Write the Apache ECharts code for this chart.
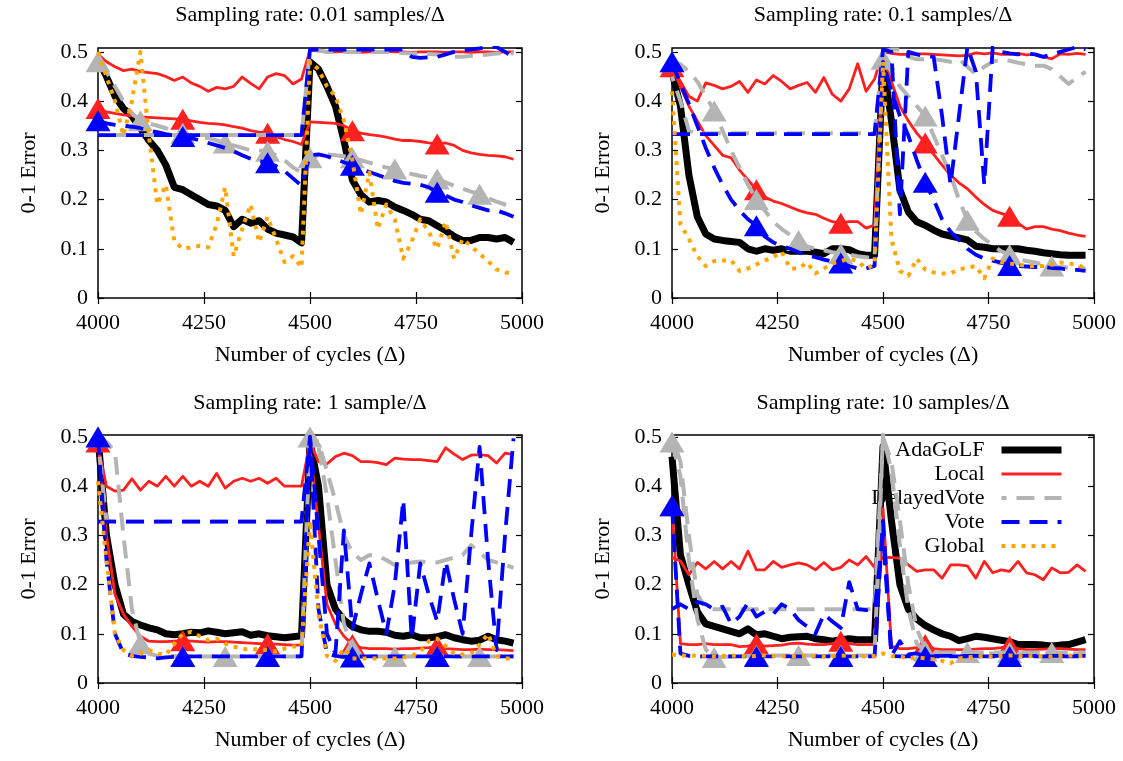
<!DOCTYPE html>
<html><head><meta charset="utf-8">
<script src="https://cdn.jsdelivr.net/npm/echarts@6/dist/echarts.min.js"></script>
<style>html,body{margin:0;padding:0;background:#fff}#c{width:1123px;height:761px}</style>
</head><body><div id="c"></div>
<script>
// ---------- data ----------
const X = [4000,4020,4040,4060,4080,4100,4120,4140,4160,4180,
4200,4220,4240,4260,4280,4300,4320,4340,4360,4380,
4400,4420,4440,4460,4480,4500,4520,4540,4560,4580,
4600,4620,4640,4660,4680,4700,4720,4740,4760,4780,
4800,4820,4840,4860,4880,4900,4920,4940,4960,4980];
const X_TICKS = [4000, 4250, 4500, 4750, 5000];
const MARK_RB = [4000, 4200, 4400, 4600, 4800];
const MARK_GRAY = [4000, 4100, 4200, 4300, 4400, 4500, 4600, 4700, 4800, 4900];
const TITLES = ['Sampling rate: 0.01 samples/\u0394','Sampling rate: 0.1 samples/\u0394','Sampling rate: 1 sample/\u0394','Sampling rate: 10 samples/\u0394'];
const LEGEND_NAMES = ['AdaGoLF','Local','DelayedVote','Vote','Global'];

// ---- 0.01 samples ----
const ada001 = [0.485,0.45,0.41,0.385,0.37,0.345,0.32,0.30,0.27,0.225,
0.22,0.21,0.20,0.19,0.187,0.178,0.145,0.16,0.152,0.157,
0.14,0.132,0.128,0.124,0.112,0.48,0.465,0.43,0.39,0.32,
0.24,0.21,0.195,0.198,0.195,0.185,0.178,0.17,0.16,0.157,
0.147,0.137,0.125,0.117,0.117,0.123,0.123,0.12,0.123,0.113];
const local001 = [0.495,0.48,0.47,0.462,0.465,0.46,0.458,0.456,0.45,0.442,
0.449,0.437,0.43,0.42,0.428,0.425,0.43,0.449,0.436,0.425,
0.449,0.456,0.452,0.435,0.445,0.503,0.502,0.5,0.5,0.501,
0.5,0.499,0.5,0.5,0.501,0.5,0.5,0.499,0.5,0.5,
0.5,0.499,0.5,0.5,0.499,0.5,0.5,0.499,0.5,0.5];
const localM001 = [0.385,0.378,0.375,0.372,0.37,0.368,0.367,0.366,0.365,0.364,
0.363,0.36,0.357,0.355,0.354,0.352,0.348,0.345,0.34,0.337,
0.335,0.328,0.322,0.318,0.312,0.358,0.357,0.356,0.355,0.35,
0.34,0.335,0.332,0.33,0.327,0.323,0.32,0.32,0.318,0.315,
0.313,0.315,0.31,0.3,0.295,0.292,0.29,0.289,0.287,0.282];
const dv001 = [0.331,0.331,0.331,0.331,0.331,0.331,0.331,0.331,0.331,0.331,
0.331,0.331,0.331,0.331,0.331,0.331,0.331,0.331,0.331,0.331,
0.331,0.331,0.331,0.331,0.331,0.505,0.503,0.5,0.5,0.5,
0.5,0.5,0.499,0.5,0.5,0.5,0.498,0.497,0.497,0.496,
0.495,0.493,0.49,0.49,0.492,0.493,0.495,0.497,0.498,0.497];
const dvM001 = [0.48,0.46,0.43,0.4,0.375,0.36,0.355,0.35,0.345,0.34,
0.335,0.33,0.328,0.325,0.32,0.315,0.31,0.305,0.3,0.3,
0.298,0.29,0.28,0.265,0.255,0.285,0.29,0.292,0.29,0.288,
0.285,0.28,0.275,0.27,0.265,0.262,0.257,0.252,0.248,0.245,
0.242,0.235,0.228,0.222,0.216,0.211,0.203,0.196,0.19,0.184];
const vote001 = [0.331,0.331,0.331,0.331,0.331,0.331,0.331,0.331,0.331,0.331,
0.331,0.331,0.331,0.331,0.331,0.331,0.331,0.331,0.331,0.331,
0.331,0.331,0.331,0.331,0.331,0.505,0.505,0.505,0.505,0.505,
0.505,0.505,0.505,0.505,0.505,0.505,0.505,0.49,0.488,0.489,
0.49,0.495,0.5,0.503,0.505,0.507,0.51,0.51,0.5,0.49];
const voteM001 = [0.36,0.355,0.352,0.35,0.348,0.345,0.34,0.337,0.333,0.33,
0.328,0.325,0.32,0.315,0.31,0.305,0.298,0.29,0.283,0.278,
0.275,0.268,0.258,0.243,0.228,0.29,0.292,0.288,0.282,0.276,
0.27,0.262,0.256,0.25,0.244,0.238,0.234,0.232,0.23,0.225,
0.215,0.208,0.2,0.195,0.188,0.183,0.178,0.178,0.172,0.165];
const global001 = [0.5,0.45,0.4,0.33,0.4,0.5,0.33,0.19,0.23,0.115,
0.1,0.103,0.106,0.103,0.15,0.225,0.085,0.14,0.19,0.113,
0.165,0.12,0.073,0.085,0.062,0.48,0.465,0.43,0.41,0.36,
0.28,0.17,0.255,0.14,0.19,0.16,0.08,0.115,0.16,0.135,
0.1,0.155,0.08,0.12,0.105,0.09,0.075,0.058,0.052,0.049];

// ---- 0.1 samples ----
const ada01 = [0.46,0.39,0.25,0.165,0.13,0.12,0.117,0.115,0.113,0.1,
0.095,0.1,0.097,0.1,0.095,0.095,0.095,0.093,0.09,0.1,
0.1,0.098,0.09,0.087,0.087,0.48,0.36,0.22,0.175,0.155,
0.148,0.138,0.13,0.126,0.122,0.118,0.105,0.103,0.1,0.1,
0.1,0.1,0.097,0.095,0.092,0.09,0.088,0.087,0.087,0.087];
const local01 = [0.47,0.44,0.41,0.4,0.437,0.432,0.425,0.43,0.44,0.418,
0.443,0.435,0.452,0.44,0.425,0.432,0.438,0.418,0.448,0.414,
0.4,0.425,0.476,0.42,0.445,0.5,0.497,0.495,0.495,0.496,
0.496,0.495,0.494,0.493,0.492,0.493,0.498,0.496,0.498,0.495,
0.495,0.497,0.494,0.495,0.49,0.486,0.496,0.495,0.497,0.495];
const localM01 = [0.47,0.43,0.39,0.36,0.33,0.31,0.29,0.285,0.26,0.24,
0.22,0.205,0.197,0.192,0.185,0.178,0.173,0.17,0.162,0.155,
0.152,0.155,0.155,0.142,0.148,0.49,0.44,0.39,0.36,0.335,
0.315,0.292,0.27,0.25,0.234,0.222,0.205,0.19,0.178,0.172,
0.166,0.152,0.14,0.145,0.145,0.14,0.137,0.132,0.128,0.125];
const dv01 = [0.45,0.4,0.34,0.335,0.335,0.335,0.335,0.335,0.335,0.335,
0.335,0.335,0.335,0.335,0.335,0.335,0.335,0.335,0.335,0.335,
0.335,0.335,0.335,0.335,0.335,0.5,0.505,0.505,0.49,0.485,
0.485,0.485,0.483,0.48,0.485,0.47,0.455,0.47,0.48,0.485,
0.482,0.478,0.475,0.472,0.472,0.465,0.45,0.435,0.448,0.46];
const dvM01 = [0.48,0.475,0.46,0.44,0.41,0.38,0.34,0.3,0.265,0.23,
0.2,0.178,0.155,0.14,0.128,0.117,0.105,0.1,0.097,0.093,
0.09,0.088,0.085,0.083,0.08,0.485,0.46,0.43,0.41,0.39,
0.37,0.33,0.29,0.25,0.2,0.158,0.135,0.12,0.107,0.095,
0.088,0.08,0.075,0.072,0.068,0.065,0.063,0.062,0.061,0.06];
const vote01 = [0.333,0.333,0.333,0.333,0.333,0.333,0.333,0.333,0.333,0.333,
0.333,0.333,0.333,0.333,0.333,0.333,0.333,0.333,0.333,0.333,
0.333,0.333,0.333,0.333,0.333,0.505,0.5,0.17,0.5,0.495,
0.492,0.49,0.37,0.23,0.37,0.51,0.46,0.23,0.51,0.5,
0.497,0.495,0.497,0.495,0.49,0.495,0.5,0.505,0.51,0.505];
const voteM01 = [0.48,0.435,0.395,0.35,0.305,0.265,0.23,0.2,0.178,0.16,
0.147,0.125,0.113,0.105,0.1,0.093,0.087,0.083,0.078,0.074,
0.071,0.065,0.06,0.06,0.065,0.48,0.42,0.37,0.33,0.28,
0.235,0.2,0.16,0.135,0.118,0.1,0.088,0.08,0.076,0.072,
0.066,0.065,0.064,0.063,0.063,0.061,0.06,0.058,0.057,0.055];
const global01 = [0.42,0.15,0.12,0.085,0.065,0.075,0.076,0.077,0.055,0.06,
0.068,0.076,0.083,0.094,0.06,0.06,0.072,0.05,0.06,0.07,
0.075,0.08,0.075,0.06,0.068,0.48,0.12,0.055,0.045,0.08,
0.058,0.052,0.05,0.05,0.058,0.062,0.065,0.04,0.08,0.073,
0.07,0.068,0.065,0.065,0.065,0.068,0.072,0.07,0.068,0.06];

// ---- 1 sample ----
const ada1 = [0.5,0.3,0.2,0.14,0.125,0.118,0.112,0.108,0.1,0.098,
0.1,0.103,0.102,0.106,0.103,0.1,0.102,0.104,0.097,0.1,
0.096,0.094,0.092,0.094,0.096,0.49,0.4,0.2,0.15,0.128,
0.115,0.108,0.105,0.105,0.103,0.097,0.095,0.098,0.092,0.092,
0.094,0.098,0.092,0.088,0.085,0.087,0.095,0.088,0.085,0.081];
const local1 = [0.48,0.4,0.39,0.392,0.415,0.392,0.41,0.4,0.42,0.4,
0.42,0.4,0.41,0.4,0.426,0.396,0.41,0.416,0.41,0.416,
0.406,0.416,0.4,0.4,0.4,0.49,0.45,0.445,0.46,0.467,
0.462,0.45,0.45,0.448,0.444,0.457,0.455,0.454,0.454,0.452,
0.45,0.478,0.465,0.454,0.463,0.464,0.462,0.447,0.467,0.464];
const localM1 = [0.49,0.3,0.18,0.14,0.115,0.095,0.085,0.084,0.084,0.085,
0.086,0.085,0.084,0.083,0.084,0.084,0.083,0.082,0.081,0.08,
0.08,0.079,0.078,0.077,0.077,0.48,0.32,0.16,0.12,0.095,
0.078,0.072,0.07,0.07,0.07,0.069,0.07,0.07,0.071,0.072,
0.074,0.07,0.069,0.068,0.068,0.069,0.068,0.068,0.067,0.066];
const dv1 = [0.49,0.33,0.328,0.328,0.328,0.328,0.328,0.328,0.328,0.328,
0.328,0.328,0.328,0.328,0.328,0.328,0.328,0.328,0.328,0.328,
0.328,0.328,0.328,0.328,0.328,0.5,0.49,0.43,0.37,0.3,
0.265,0.25,0.26,0.258,0.25,0.24,0.24,0.245,0.247,0.245,
0.245,0.25,0.255,0.26,0.28,0.265,0.25,0.245,0.24,0.234];
const dvM1 = [0.5,0.49,0.47,0.3,0.15,0.08,0.06,0.055,0.055,0.055,
0.054,0.054,0.054,0.054,0.054,0.054,0.054,0.054,0.054,0.054,
0.054,0.054,0.054,0.054,0.054,0.5,0.48,0.38,0.25,0.12,
0.07,0.058,0.055,0.054,0.054,0.054,0.054,0.054,0.054,0.054,
0.054,0.054,0.054,0.054,0.054,0.054,0.054,0.054,0.054,0.054];
const vote1 = [0.328,0.328,0.328,0.328,0.328,0.328,0.328,0.328,0.328,0.328,
0.328,0.328,0.328,0.328,0.328,0.328,0.328,0.328,0.328,0.328,
0.328,0.328,0.328,0.328,0.328,0.5,0.3,0.1,0.06,0.31,
0.11,0.18,0.243,0.17,0.1,0.2,0.372,0.09,0.243,0.18,
0.125,0.247,0.17,0.1,0.3,0.48,0.25,0.067,0.3,0.497];
const voteM1 = [0.5,0.25,0.1,0.06,0.055,0.053,0.052,0.05,0.052,0.053,
0.054,0.054,0.054,0.054,0.054,0.054,0.054,0.054,0.054,0.054,
0.054,0.054,0.054,0.054,0.054,0.5,0.15,0.06,0.055,0.053,
0.053,0.054,0.054,0.054,0.054,0.054,0.054,0.054,0.054,0.054,
0.054,0.054,0.054,0.054,0.054,0.054,0.054,0.054,0.054,0.054];
const global1 = [0.41,0.25,0.1,0.067,0.055,0.06,0.067,0.06,0.057,0.08,
0.1,0.104,0.095,0.087,0.09,0.08,0.074,0.07,0.067,0.07,
0.066,0.064,0.07,0.074,0.074,0.33,0.14,0.055,0.045,0.07,
0.05,0.05,0.05,0.05,0.05,0.05,0.052,0.055,0.064,0.085,
0.09,0.075,0.06,0.058,0.06,0.078,0.1,0.055,0.05,0.05];

// ---- 10 samples ----
const ada10 = [0.46,0.26,0.2,0.145,0.12,0.115,0.11,0.105,0.1,0.11,
0.098,0.1,0.095,0.09,0.093,0.094,0.095,0.09,0.088,0.085,
0.088,0.09,0.088,0.088,0.088,0.48,0.33,0.2,0.15,0.13,
0.117,0.108,0.1,0.095,0.086,0.09,0.095,0.093,0.09,0.087,
0.084,0.078,0.078,0.078,0.077,0.075,0.077,0.078,0.083,0.088];
const local10 = [0.255,0.248,0.22,0.245,0.232,0.247,0.232,0.247,0.232,0.268,
0.23,0.23,0.247,0.235,0.24,0.244,0.24,0.23,0.245,0.23,
0.235,0.25,0.24,0.257,0.235,0.255,0.255,0.254,0.24,0.227,
0.23,0.23,0.213,0.24,0.24,0.238,0.213,0.247,0.224,0.23,
0.227,0.247,0.224,0.22,0.21,0.234,0.224,0.225,0.24,0.227];
const localM10 = [0.36,0.08,0.078,0.078,0.08,0.078,0.078,0.078,0.074,0.075,
0.08,0.075,0.076,0.077,0.08,0.081,0.079,0.078,0.078,0.08,
0.085,0.08,0.078,0.078,0.078,0.355,0.075,0.07,0.07,0.072,
0.078,0.07,0.068,0.068,0.068,0.068,0.069,0.07,0.07,0.072,
0.075,0.07,0.068,0.068,0.069,0.07,0.07,0.069,0.068,0.068];
const dv10 = [0.5,0.45,0.3,0.18,0.152,0.15,0.15,0.15,0.15,0.15,
0.15,0.15,0.15,0.15,0.15,0.15,0.15,0.15,0.15,0.15,
0.15,0.15,0.15,0.15,0.15,0.5,0.45,0.33,0.2,0.11,
0.07,0.062,0.06,0.06,0.06,0.06,0.06,0.06,0.06,0.06,
0.06,0.06,0.06,0.06,0.06,0.06,0.06,0.06,0.06,0.06];
const dvM10 = [0.49,0.42,0.25,0.13,0.068,0.052,0.053,0.054,0.055,0.055,
0.056,0.056,0.056,0.056,0.056,0.056,0.056,0.056,0.056,0.056,
0.056,0.056,0.056,0.056,0.056,0.505,0.43,0.28,0.15,0.08,
0.065,0.062,0.062,0.062,0.062,0.062,0.062,0.062,0.062,0.062,
0.062,0.062,0.062,0.062,0.062,0.062,0.062,0.062,0.062,0.062];
const vote10 = [0.15,0.16,0.15,0.165,0.16,0.15,0.155,0.12,0.135,0.163,
0.135,0.145,0.14,0.16,0.15,0.128,0.115,0.1,0.14,0.125,
0.112,0.205,0.15,0.148,0.148,0.3,0.055,0.085,0.058,0.06,
0.055,0.055,0.055,0.055,0.055,0.055,0.055,0.055,0.055,0.055,
0.055,0.055,0.055,0.055,0.055,0.055,0.055,0.055,0.055,0.055];
const voteM10 = [0.36,0.06,0.055,0.054,0.054,0.054,0.054,0.054,0.054,0.054,
0.054,0.054,0.054,0.054,0.054,0.054,0.054,0.054,0.054,0.054,
0.054,0.054,0.054,0.054,0.054,0.33,0.055,0.054,0.054,0.054,
0.054,0.054,0.054,0.054,0.054,0.054,0.054,0.054,0.054,0.054,
0.054,0.054,0.054,0.054,0.054,0.054,0.054,0.054,0.054,0.054];
const global10 = [0.058,0.056,0.055,0.056,0.055,0.054,0.055,0.056,0.055,0.054,
0.055,0.056,0.055,0.055,0.054,0.055,0.056,0.055,0.054,0.055,
0.056,0.055,0.055,0.054,0.055,0.06,0.055,0.054,0.05,0.052,
0.05,0.048,0.045,0.04,0.05,0.052,0.054,0.055,0.054,0.055,
0.056,0.055,0.054,0.055,0.055,0.054,0.055,0.056,0.055,0.055];

// ---------- layout & style ----------
const FONT = "'Liberation Serif','Times New Roman','DejaVu Serif',serif";
const PANELS = [
  {left:98, top:48, width:424, height:250, ymax:0.508, cx:310, ty:15,
   s:[ada001,local001,localM001,dv001,dvM001,vote001,voteM001,global001]},
  {left:672, top:48, width:422, height:250, ymax:0.508, cx:883, ty:15,
   s:[ada01,local01,localM01,dv01,dvM01,vote01,voteM01,global01]},
  {left:98, top:435, width:424, height:248, ymax:0.504, cx:310, ty:403,
   s:[ada1,local1,localM1,dv1,dvM1,vote1,voteM1,global1]},
  {left:672, top:435, width:422, height:248, ymax:0.504, cx:883, ty:403,
   s:[ada10,local10,localM10,dv10,dvM10,vote10,voteM10,global10]}
];
const STY = [
  {name:'AdaGoLF', color:'#000000', width:7, type:'solid', mark:null},
  {name:'Local', color:'#ff2020', width:2.8, type:'solid', mark:null},
  {name:'Local ', color:'#ff2020', width:2.8, type:'solid', mark:MARK_RB},
  {name:'DelayedVote', color:'#b4b4b4', width:4, type:[18,10], off:13, mark:null},
  {name:'DelayedVote ', color:'#b4b4b4', width:4, type:[18,10], mark:MARK_GRAY},
  {name:'Vote', color:'#0000ff', width:3.8, type:[18,10], mark:null},
  {name:'Vote ', color:'#0000ff', width:3.8, type:[18,10], mark:MARK_RB},
  {name:'Global', color:'#ffa500', width:4, type:[4,6], mark:null}
];

const grids=[], xAxes=[], yAxes=[], series=[], graphics=[];
PANELS.forEach((p, pi) => {
  grids.push({left:p.left, top:p.top, width:p.width, height:p.height, show:true,
    borderColor:'#000', borderWidth:1.5, backgroundColor:'transparent'});
  const tick = {show:true, inside:true, length:6, lineStyle:{color:'#000', width:1.2}};
  xAxes.push({type:'value', gridIndex:pi, min:X_TICKS[0], max:X_TICKS[X_TICKS.length-1], interval:X_TICKS[1]-X_TICKS[0],
    position:'bottom', axisLine:{show:false}, axisTick:tick, splitLine:{show:false},
    axisLabel:{fontFamily:FONT, fontSize:22, color:'#000', margin:14, formatter:v=>String(v)},
    name:'Number of cycles (\u0394)', nameLocation:'middle', nameGap:46,
    nameTextStyle:{fontFamily:FONT, fontSize:22, color:'#000'}});
  xAxes.push({type:'value', gridIndex:pi, min:X_TICKS[0], max:X_TICKS[X_TICKS.length-1], interval:X_TICKS[1]-X_TICKS[0],
    position:'top', axisLine:{show:false}, axisTick:tick, axisLabel:{show:false}, splitLine:{show:false}});
  yAxes.push({type:'value', gridIndex:pi, min:0, max:p.ymax, interval:0.1, position:'left',
    axisLine:{show:false}, axisTick:tick, splitLine:{show:false},
    axisLabel:{fontFamily:FONT, fontSize:22, color:'#000', margin:10, showMaxLabel:false,
      formatter:v=>String(parseFloat(v.toFixed(3)))},
    name:'0-1 Error', nameLocation:'middle', nameGap:58, nameRotate:90,
    nameTextStyle:{fontFamily:FONT, fontSize:22, color:'#000'}});
  yAxes.push({type:'value', gridIndex:pi, min:0, max:p.ymax, interval:0.1, position:'right',
    axisLine:{show:false}, axisTick:tick, axisLabel:{show:false}, splitLine:{show:false}});
  graphics.push({type:'text', x:p.cx, y:p.ty, style:{text:TITLES[pi], font:'22px ' + FONT, fill:'#000',
    textAlign:'center', textVerticalAlign:'middle', align:'center', verticalAlign:'middle'}});
  STY.forEach((st, k) => {
    const arr = p.s[k];
    const marks = st.mark;
    series.push({
      type:'line', name:st.name, xAxisIndex:2*pi, yAxisIndex:2*pi,
      data: X.map((x, i) => [x, arr[i]]),
      symbol: marks ? (v => marks.indexOf(v[0]) >= 0 ? 'triangle' : 'none') : 'none',
      symbolSize:[25,21], showAllSymbol:true, showSymbol: !!marks,
      itemStyle:{color:st.color, borderWidth:0},
      lineStyle:{color:st.color, width:st.width, type:st.type, dashOffset:st.off||0, cap:'butt', join:'round'},
      z: 2 + k, silent:true, animation:false, clip:true
    });
  });
});

const chart = echarts.init(document.getElementById('c'), null, {renderer:'canvas'});
chart.setOption({
  animation:false,
  backgroundColor:'#fff',
  grid:grids, xAxis:xAxes, yAxis:yAxes, series:series,
  graphic:{elements:graphics},
  legend:{
    data: LEGEND_NAMES.map(n => {
      const st = STY.find(s => s.name === n);
      return {name:n, lineStyle:{width:st.width, type:st.type, color:st.color, cap:'butt'}, itemStyle:{opacity:0}};
    }),
    orient:'vertical', align:'right', right:53, top:434,
    itemWidth:60, itemHeight:14, itemGap:2, selectedMode:false,
    itemStyle:{opacity:0},
    textStyle:{fontFamily:FONT, fontSize:22, color:'#000', lineHeight:22, padding:[0,12,0,0]}
  }
});
</script>
</body></html>
